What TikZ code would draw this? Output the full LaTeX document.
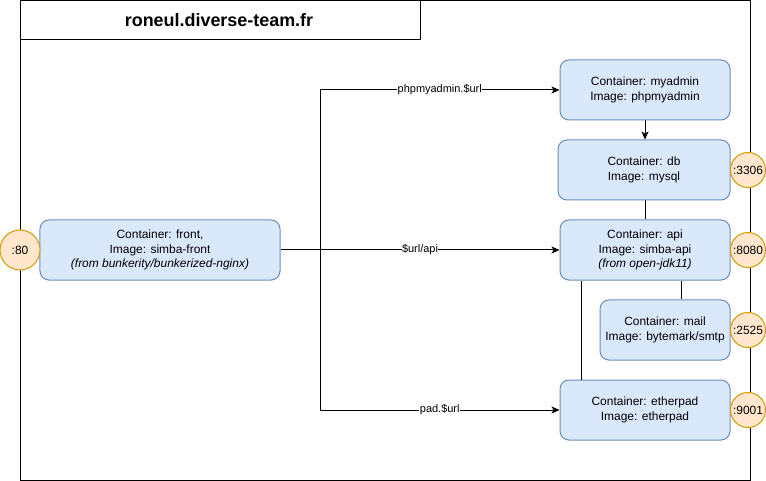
\documentclass[tikz,border=0pt]{standalone}
\usepackage{fontspec}
\setmainfont{Liberation Sans}
\usetikzlibrary{arrows.meta}
\definecolor{boxfill}{HTML}{DAE8FC}
\definecolor{boxdraw}{HTML}{6C8EBF}
\definecolor{portfill}{HTML}{FFE6CC}
\definecolor{portdraw}{HTML}{D79B00}
\begin{document}
\begin{tikzpicture}[x=1bp,y=-1bp,
  container/.style={draw=boxdraw, fill=boxfill, rounded corners=9bp, align=center,
    font=\fontsize{12}{14.4}\selectfont, inner sep=0pt, minimum height=60bp, line width=1bp},
  port/.style={circle, draw=portdraw, fill=portfill, inner sep=0pt,
    font=\fontsize{12}{14.4}\selectfont, line width=1bp},
  frame/.style={draw=black, line width=1bp},
  conn/.style={draw=black, line width=1bp},
  arr/.style={conn, -{Stealth[length=8bp,width=7bp,inset=2bp]}},
  lbl/.style={fill=white, font=\fontsize{11}{13}\selectfont, inner sep=0.5bp}
]
\useasboundingbox (0,0) rectangle (766,481);
\fill[white] (0,0) rectangle (766,481);
% frames
\draw[frame] (20,0.5) rectangle (750,480);
\draw[frame] (20,0.5) rectangle (420,40);
\node[font=\fontsize{18}{21}\selectfont\bfseries] (title) at (219,20) {roneul.diverse-team.fr};
% containers
\node[container, minimum width=240bp] (front) at (160,250)
  {Container: front,\\Image: simba-front\\\textit{(from bunkerity/bunkerized-nginx)}};
\node[container, minimum width=170bp] (myadmin) at (645,90)
  {Container: myadmin\\Image: phpmyadmin};
\node[container, minimum width=172bp] (db) at (644,170)
  {Container: db\\Image: mysql};
\node[container, minimum width=170bp] (api) at (645,250)
  {Container: api\\Image: simba-api\\\textit{(from open-jdk11)}};
\node[container, minimum width=130bp] (mail) at (665,330)
  {Container: mail\\Image: bytemark/smtp};
\node[container, minimum width=170bp] (etherpad) at (645,410)
  {Container: etherpad\\Image: etherpad};
% ports
\node[port, minimum size=40bp] (p80) at (20,250) {:80};
\node[port, minimum size=35bp] (p3306) at (748,170) {:3306};
\node[port, minimum size=35bp] (p8080) at (748,250) {:8080};
\node[port, minimum size=35bp] (p2525) at (748,330) {:2525};
\node[port, minimum size=35bp] (p9001) at (748,410) {:9001};
% connectors
\coordinate (split) at (320,250);
\draw[arr] (front.east) -- node[lbl] {\$url/api} (api.west);
\draw[arr] (split) |- node[lbl, pos=0.75] {phpmyadmin.\$url} (myadmin.west);
\draw[arr] (split) |- node[lbl, pos=0.75] {pad.\$url} (etherpad.west);
\draw[arr] (myadmin.south) -- (myadmin.south |- db.north);
\draw[conn] (api.north |- db.south) -- (api.north);
\draw[conn] ([xshift=36bp]api.south) -- ([xshift=36bp]api.south |- mail.north);
\draw[conn] ([xshift=-64bp]api.south) -- ([xshift=-64bp]api.south |- etherpad.north);
\end{tikzpicture}
\end{document}
